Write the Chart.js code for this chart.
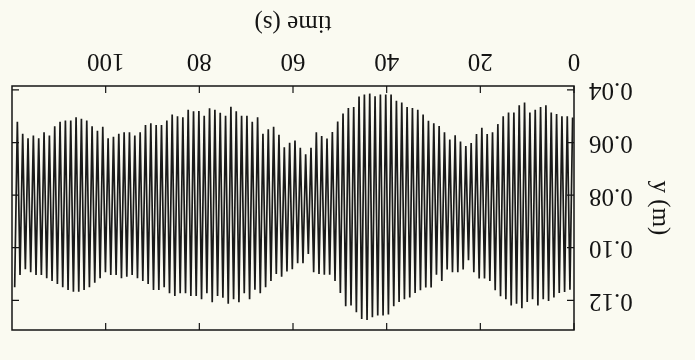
<!DOCTYPE html>
<html>
<head>
<meta charset="utf-8">
<script src="https://cdn.jsdelivr.net/npm/chart.js@4/dist/chart.umd.min.js"></script>
<style>
  html, body { margin: 0; padding: 0; background: #fafaf1; }
  #wrap { width: 695px; height: 360px; transform: rotate(180deg); }
  canvas { display: block; background: #fafaf1; }
</style>
</head>
<body>
<div id="wrap"><canvas id="wave" width="695" height="360"></canvas></div>
<script>
// the scanned figure is printed upside down, so the page is turned 180deg

const xTicks = [0, 20, 40, 60, 80, 100];
const yTicks = [0.04, 0.06, 0.08, 0.10, 0.12];
const yTickLabels = ['0.04', '0.06', '0.08', '0.10', '0.12'];

// time of each trough / crest (s)
const lowT = [
  0.30, 1.44, 2.58, 3.72, 4.86, 6.00, 7.14, 8.28, 9.42, 10.56,
  11.70, 12.84, 13.98, 15.12, 16.26, 17.40, 18.54, 19.68, 20.82, 21.96,
  23.10, 24.24, 25.38, 26.52, 27.66, 28.80, 29.94, 31.08, 32.22, 33.36,
  34.50, 35.64, 36.78, 37.92, 39.06, 40.20, 41.34, 42.48, 43.62, 44.76,
  45.90, 47.04, 48.18, 49.32, 50.46, 51.60, 52.74, 53.88, 55.02, 56.16,
  57.30, 58.44, 59.58, 60.72, 61.86, 63.00, 64.14, 65.28, 66.42, 67.56,
  68.70, 69.84, 70.98, 72.12, 73.26, 74.40, 75.54, 76.68, 77.82, 78.96,
  80.10, 81.24, 82.38, 83.52, 84.66, 85.80, 86.94, 88.08, 89.22, 90.36,
  91.50, 92.64, 93.78, 94.92, 96.06, 97.20, 98.34, 99.48, 100.62, 101.76,
  102.90, 104.04, 105.18, 106.32, 107.46, 108.60, 109.74, 110.88, 112.02, 113.16,
  114.30, 115.44, 116.58, 117.72, 118.86
];
const highT = [
  0.87, 2.01, 3.15, 4.29, 5.43, 6.57, 7.71, 8.85, 9.99, 11.13,
  12.27, 13.41, 14.55, 15.69, 16.83, 17.97, 19.11, 20.25, 21.39, 22.53,
  23.67, 24.81, 25.95, 27.09, 28.23, 29.37, 30.51, 31.65, 32.79, 33.93,
  35.07, 36.21, 37.35, 38.49, 39.63, 40.77, 41.91, 43.05, 44.19, 45.33,
  46.47, 47.61, 48.75, 49.89, 51.03, 52.17, 53.31, 54.45, 55.59, 56.73,
  57.87, 59.01, 60.15, 61.29, 62.43, 63.57, 64.71, 65.85, 66.99, 68.13,
  69.27, 70.41, 71.55, 72.69, 73.83, 74.97, 76.11, 77.25, 78.39, 79.53,
  80.67, 81.81, 82.95, 84.09, 85.23, 86.37, 87.51, 88.65, 89.79, 90.93,
  92.07, 93.21, 94.35, 95.49, 96.63, 97.77, 98.91, 100.05, 101.19, 102.33,
  103.47, 104.61, 105.75, 106.89, 108.03, 109.17, 110.31, 111.45, 112.59, 113.73,
  114.87, 116.01, 117.15, 118.29, 119.43
];

// y (m) at each trough / crest
const lowY = [
  0.0505, 0.0500, 0.0500, 0.0492, 0.0486, 0.0458, 0.0465, 0.0475, 0.0486, 0.0448,
  0.0458, 0.0486, 0.0486, 0.0500, 0.0530, 0.0561, 0.0568, 0.0544, 0.0568, 0.0602,
  0.0613, 0.0596, 0.0572, 0.0589, 0.0561, 0.0537, 0.0527, 0.0517, 0.0493, 0.0475,
  0.0469, 0.0465, 0.0448, 0.0441, 0.0417, 0.0417, 0.0417, 0.0424, 0.0414, 0.0417,
  0.0425, 0.0465, 0.0469, 0.0490, 0.0520, 0.0560, 0.0585, 0.0575, 0.0561, 0.0620,
  0.0645, 0.0620, 0.0592, 0.0601, 0.0618, 0.0570, 0.0540, 0.0550, 0.0567, 0.0504,
  0.0521, 0.0498, 0.0498, 0.0481, 0.0464, 0.0498, 0.0487, 0.0475, 0.0470, 0.0498,
  0.0480, 0.0481, 0.0475, 0.0504, 0.0500, 0.0493, 0.0516, 0.0533, 0.0533, 0.0527,
  0.0533, 0.0561, 0.0573, 0.0561, 0.0561, 0.0567, 0.0578, 0.0584, 0.0540, 0.0555,
  0.0538, 0.0516, 0.0510, 0.0504, 0.0516, 0.0516, 0.0521, 0.0538, 0.0573, 0.0561,
  0.0584, 0.0573, 0.0584, 0.0567, 0.0521
];
const highY = [
  0.1160, 0.1168, 0.1172, 0.1189, 0.1203, 0.1196, 0.1220, 0.1196, 0.1206, 0.1230,
  0.1213, 0.1220, 0.1196, 0.1185, 0.1162, 0.1127, 0.1117, 0.1117, 0.1093, 0.1048,
  0.1083, 0.1093, 0.1093, 0.1083, 0.1127, 0.1103, 0.1151, 0.1151, 0.1162, 0.1172,
  0.1189, 0.1196, 0.1206, 0.1223, 0.1254, 0.1258, 0.1258, 0.1264, 0.1275, 0.1271,
  0.1245, 0.1220, 0.1223, 0.1172, 0.1127, 0.1103, 0.1103, 0.1100, 0.1093, 0.1024,
  0.1059, 0.1059, 0.1082, 0.1090, 0.1110, 0.1100, 0.1127, 0.1150, 0.1173, 0.1160,
  0.1196, 0.1173, 0.1207, 0.1196, 0.1213, 0.1190, 0.1184, 0.1207, 0.1173, 0.1196,
  0.1184, 0.1184, 0.1173, 0.1173, 0.1184, 0.1173, 0.1150, 0.1161, 0.1161, 0.1138,
  0.1127, 0.1116, 0.1104, 0.1110, 0.1116, 0.1104, 0.1104, 0.1093, 0.1116, 0.1133,
  0.1150, 0.1161, 0.1167, 0.1167, 0.1161, 0.1150, 0.1138, 0.1127, 0.1116, 0.1104,
  0.1104, 0.1093, 0.1082, 0.1104, 0.1150
];

const points = [];
for (let i = 0; i < lowT.length; i++) {
  points.push({ x: lowT[i], y: lowY[i] });
  points.push({ x: highT[i], y: highY[i] });
}

const ink = '#141414';
const serif = 'Liberation Serif, "Times New Roman", serif';

// closed box with short inward ticks on all four sides
const frame = {
  id: 'frame',
  afterDatasetsDraw(chart) {
    const { ctx, chartArea: a, scales: { x, y } } = chart;
    const len = 7;
    ctx.save();
    ctx.strokeStyle = ink;
    ctx.lineWidth = 1.5;
    ctx.strokeRect(a.left, a.top, a.right - a.left, a.bottom - a.top);
    ctx.lineWidth = 1.2;
    ctx.beginPath();
    x.ticks.forEach(t => {
      const px = x.getPixelForValue(t.value);
      ctx.moveTo(px, a.bottom); ctx.lineTo(px, a.bottom - len);
      ctx.moveTo(px, a.top); ctx.lineTo(px, a.top + len);
    });
    y.ticks.forEach(t => {
      const py = y.getPixelForValue(t.value);
      ctx.moveTo(a.left, py); ctx.lineTo(a.left + len, py);
      ctx.moveTo(a.right, py); ctx.lineTo(a.right - len, py);
    });
    ctx.stroke();
    ctx.restore();
  }
};

new Chart(document.getElementById('wave'), {
  type: 'line',
  data: {
    datasets: [{
      data: points,
      borderColor: '#1a1a1a',
      borderWidth: 1.7,
      pointRadius: 0,
      tension: 0,
      fill: false
    }]
  },
  options: {
    responsive: false,
    animation: false,
    events: [],
    layout: { padding: { top: 4, right: 12, left: 0, bottom: 0 } },
    plugins: { legend: { display: false }, tooltip: { enabled: false } },
    scales: {
      x: {
        type: 'linear',
        min: 0,
        max: 120,
        afterBuildTicks: s => { s.ticks = xTicks.map(v => ({ value: v })); },
        afterFit: s => { s.height = 86; },
        grid: { display: false, drawTicks: false },
        border: { display: false },
        ticks: {
          padding: 10,
          maxRotation: 0,
          autoSkip: false,
          color: ink,
          font: { family: serif, size: 25 },
          callback: v => String(v)
        },
        title: {
          display: true,
          text: 'time (s)',
          color: ink,
          font: { family: serif, size: 25 },
          padding: { top: 0, bottom: 8 }
        }
      },
      y: {
        min: 0.0385,
        max: 0.1313,
        afterBuildTicks: s => { s.ticks = yTicks.map(v => ({ value: v })); },
        afterFit: s => { s.width = 121; },
        grid: { display: false, drawTicks: false },
        border: { display: false },
        ticks: {
          padding: 15,
          autoSkip: false,
          color: ink,
          font: { family: serif, size: 25 },
          callback: (v, i) => yTickLabels[i]
        },
        title: {
          display: true,
          text: 'y (m)',
          color: ink,
          font: { family: serif, size: 25 },
          padding: { top: 20, bottom: 0 }
        }
      }
    }
  },
  plugins: [frame]
});
</script>
</body>
</html>
